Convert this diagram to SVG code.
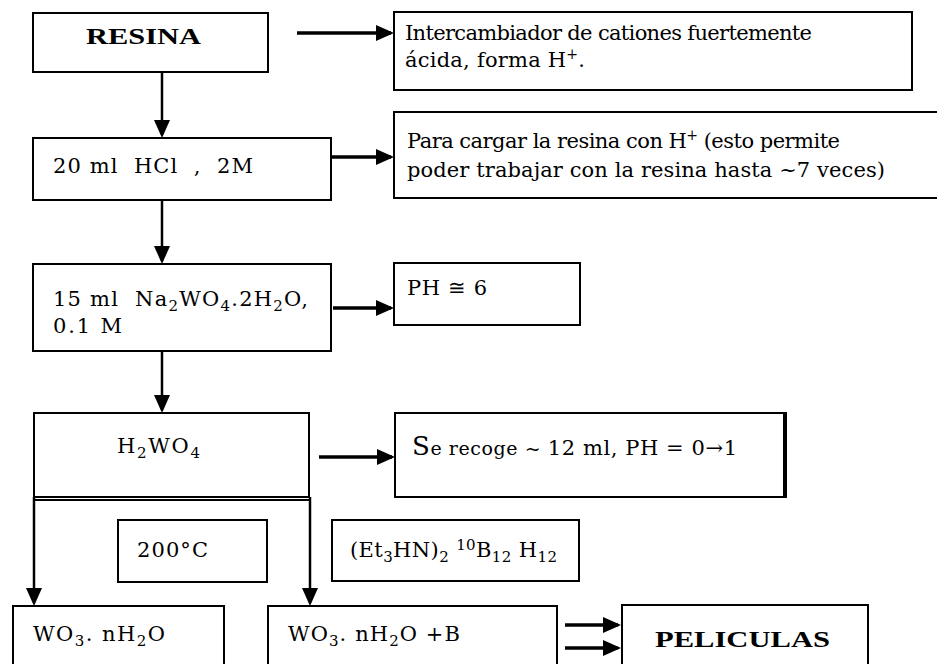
<svg xmlns="http://www.w3.org/2000/svg" width="937" height="664" viewBox="0 0 937 664">
<style>
.box{fill:#fff;stroke:#000;stroke-width:2}
.t{font-family:"DejaVu Serif","Liberation Serif",serif;font-size:21px;fill:#000}
.b{font-family:"Liberation Serif","Times New Roman",serif;font-size:24px;font-weight:bold;fill:#000}
.h{stroke:#000;stroke-width:3.5;fill:none}
.v{stroke:#000;stroke-width:2.5;fill:none}
</style>
<defs>
<marker id="ah" markerUnits="userSpaceOnUse" markerWidth="18" markerHeight="16" refX="15" refY="8" orient="auto">
<path d="M0,0 L18,8 L0,16 z" fill="#000"/>
</marker>
</defs>
<rect width="937" height="664" fill="#fff"/>

<g id="resina"><rect class="box" x="33" y="13" width="235" height="59"/><text class="b" x="86" y="44" textLength="115" lengthAdjust="spacingAndGlyphs">RESINA</text></g>
<g id="intercambiador"><rect class="box" x="394" y="12" width="518" height="78"/>
<text class="t" x="405" y="40" textLength="407">Intercambiador de cationes fuertemente</text>
<text class="t" x="405" y="67" textLength="180">ácida, forma H<tspan dy="-8" font-size="14">+</tspan><tspan dy="8">.</tspan></text></g>
<g id="hcl"><rect class="box" x="33" y="138" width="298" height="62"/><text class="t" x="53" y="173" textLength="200" xml:space="preserve">20 ml  HCl  ,  2M</text></g>
<g id="cargar"><rect class="box" x="394" y="112" width="560" height="86"/>
<text class="t" x="407" y="148" textLength="433">Para cargar la resina con H<tspan dy="-8" font-size="14">+</tspan><tspan dy="8"> (esto permite</tspan></text>
<text class="t" x="407" y="177" textLength="478">poder trabajar con la resina hasta ~7 veces)</text></g>
<g id="na2wo4"><rect class="box" x="33" y="264" width="298" height="87"/>
<text class="t" x="53" y="306" textLength="255" xml:space="preserve">15 ml  Na<tspan dy="5" font-size="15">2</tspan><tspan dy="-5">WO</tspan><tspan dy="5" font-size="15">4</tspan><tspan dy="-5">.2H</tspan><tspan dy="5" font-size="15">2</tspan><tspan dy="-5">O,</tspan></text>
<text class="t" x="53" y="333" textLength="69">0.1 M</text></g>
<g id="ph"><rect class="box" x="394" y="263" width="186" height="62"/><text class="t" x="407" y="295" textLength="80">PH ≅ 6</text></g>
<g id="h2wo4"><rect class="box" x="34" y="413" width="275" height="84"/>
<text class="t" x="117" y="453" textLength="83">H<tspan dy="5" font-size="15">2</tspan><tspan dy="-5">WO</tspan><tspan dy="5" font-size="15">4</tspan></text></g>
<g id="serecoge"><rect class="box" x="395" y="413" width="390" height="84"/><line x1="785" y1="412" x2="785" y2="498" stroke="#000" stroke-width="4"/>
<text class="t" x="412" y="455" textLength="325"><tspan font-size="26">S</tspan><tspan font-size="19">e recoge ~ </tspan>12 ml, PH = 0→1</text></g>
<g id="t200"><rect class="box" x="118" y="520" width="149" height="62"/><text class="t" x="137" y="557" textLength="71">200°C</text></g>
<g id="boro"><rect class="box" x="332" y="520" width="247" height="61"/>
<text class="t" x="350" y="557" textLength="207">(Et<tspan dy="5" font-size="15">3</tspan><tspan dy="-5">HN)</tspan><tspan dy="5" font-size="15">2</tspan><tspan dy="-5" xml:space="preserve"> </tspan><tspan dy="-7" font-size="15">10</tspan><tspan dy="7">B</tspan><tspan dy="5" font-size="15">12</tspan><tspan dy="-5"> H</tspan><tspan dy="5" font-size="15">12</tspan></text></g>
<g id="wo3"><rect class="box" x="13" y="606" width="211" height="70"/>
<text class="t" x="33" y="641" textLength="132">WO<tspan dy="5" font-size="15">3</tspan><tspan dy="-5">. nH</tspan><tspan dy="5" font-size="15">2</tspan><tspan dy="-5">O</tspan></text></g>
<g id="wo3b"><rect class="box" x="268" y="606" width="289" height="70"/>
<text class="t" x="288" y="641" textLength="172">WO<tspan dy="5" font-size="15">3</tspan><tspan dy="-5">. nH</tspan><tspan dy="5" font-size="15">2</tspan><tspan dy="-5" xml:space="preserve">O +B</tspan></text></g>
<g id="peliculas"><rect class="box" x="622" y="605" width="246" height="70"/><text class="b" x="655" y="647" textLength="175" lengthAdjust="spacingAndGlyphs">PELICULAS</text></g>

<g id="connectors">
<path class="h" d="M297,33 H391" marker-end="url(#ah)"/>
<path class="h" d="M331,157 H391" marker-end="url(#ah)"/>
<path class="h" d="M333,308 H391" marker-end="url(#ah)"/>
<path class="h" d="M319,457 H392" marker-end="url(#ah)"/>
<path class="h" d="M565,625 H618" marker-end="url(#ah)"/>
<path class="h" d="M565,648 H618" marker-end="url(#ah)"/>
<path class="v" d="M162,72 V135" marker-end="url(#ah)"/>
<path class="v" d="M162,200 V261" marker-end="url(#ah)"/>
<path class="v" d="M162,351 V410" marker-end="url(#ah)"/>
<path class="v" d="M34,500 H310" style="stroke-width:2"/>
<path class="v" d="M34,497 V603" marker-end="url(#ah)"/>
<path class="v" d="M310,497 V603" marker-end="url(#ah)"/>
</g>
</svg>
